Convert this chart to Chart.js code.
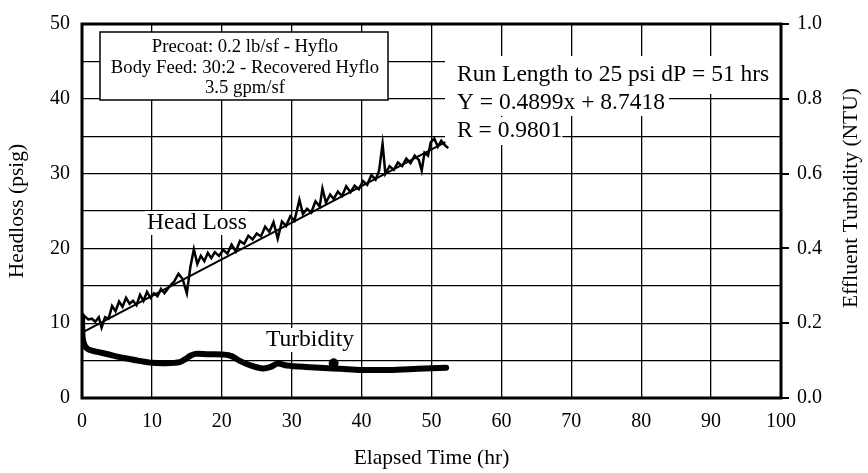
<!DOCTYPE html>
<html>
<head>
<meta charset="utf-8">
<script src="https://cdn.jsdelivr.net/npm/chart.js@4.4.1/dist/chart.umd.min.js"></script>
<style>
html, body { margin: 0; padding: 0; background: #fff; }
#wrap { width: 868px; height: 473px; }
</style>
</head>
<body>
<div id="wrap"><canvas id="runChart" width="868" height="473"></canvas></div>
<script>
// head loss readings (hr, psig)
const headTime = [0, 0.4, 0.9, 1.4, 1.9, 2.4, 2.8, 3.3, 3.8, 4.3, 4.8, 5.3, 5.8, 6.3, 6.8, 7.3, 7.8, 8.3, 8.8, 9.3, 9.8,
  10.3, 10.8, 11.3, 11.8, 12.5, 13.2, 13.8, 14.4, 15.0, 15.5, 16.0, 16.5, 17.0, 17.5, 18.0, 18.5, 19.0, 19.6, 20.2, 20.8,
  21.4, 22.0, 22.6, 23.2, 23.8, 24.4, 25.0, 25.6, 26.2, 26.8, 27.4, 28.0, 28.6, 29.2, 29.8, 30.4, 31.1, 31.6, 32.2, 32.8,
  33.4, 34.0, 34.4, 34.9, 35.5, 36.0, 36.6, 37.2, 37.8, 38.4, 39.0, 39.6, 40.2, 40.8, 41.4, 42.0, 42.5, 43.0, 43.4, 44.0,
  44.6, 45.2, 45.8, 46.4, 47.0, 47.6, 48.2, 48.6, 49.0, 49.5, 49.9, 50.4, 50.9, 51.4, 51.9, 52.4];
const headLoss = [11.0, 10.9, 10.5, 10.6, 10.2, 10.8, 9.4, 10.8, 10.6, 12.3, 11.6, 12.9, 12.2, 13.4, 12.6, 13.0, 12.4, 13.8, 13.0, 14.2, 13.4,
  14.0, 13.6, 14.6, 14.0, 14.9, 15.6, 16.6, 15.9, 14.0, 17.5, 19.9, 17.9, 19.0, 18.3, 19.4, 18.7, 19.5, 19.0, 19.8, 19.3,
  20.5, 19.6, 21.0, 20.6, 21.7, 21.2, 22.0, 21.6, 22.9, 22.2, 23.5, 21.3, 23.6, 23.0, 24.3, 23.7, 26.5, 24.6, 25.3, 24.8,
  26.3, 25.6, 28.0, 26.1, 27.2, 26.6, 27.6, 27.0, 28.3, 27.5, 28.4, 27.9, 29.0, 28.5, 29.8, 29.2, 30.4, 34.0, 30.0, 31.0,
  30.5, 31.5, 31.0, 32.0, 31.4, 32.4, 31.8, 30.4, 32.8, 32.4, 34.2, 34.7, 33.6, 34.4, 33.8, 33.4];

// regression line end points (Y = 0.4899x + 8.7418)
const fitTime = [0, 52];
const fitLoss = [8.74, 34.2];

// effluent turbidity (hr, NTU)
const turbTime = [0, 0.1, 0.4, 0.9, 2, 3.7, 4.7, 6, 8, 10, 12, 14, 14.8, 15.5, 16.2, 18, 20.4, 21.4, 22.5, 24, 25.9, 27, 28, 29.3, 32, 35.9, 38, 40, 44, 48, 52.1];
const turbNtu = [0.22, 0.16, 0.14, 0.13, 0.124, 0.117, 0.112, 0.107, 0.1, 0.094, 0.093, 0.096, 0.104, 0.113, 0.118, 0.117, 0.116, 0.112, 0.1, 0.088, 0.079, 0.083, 0.092, 0.087, 0.083, 0.079, 0.077, 0.075, 0.075, 0.078, 0.081];
const markTime = [36];
const markNtu = [0.093];

const serif = "'Liberation Serif', 'Times New Roman', serif";
Chart.defaults.font.family = serif;
Chart.defaults.color = '#000';

function toPoints(xs, ys) {
  return xs.map((x, i) => ({ x: x, y: ys[i] }));
}

function drawLabel(ctx, text, x, y, padL, padR, h) {
  const w = ctx.measureText(text).width;
  ctx.fillStyle = '#fff';
  ctx.fillRect(x - padL, y - h / 2, w + padL + padR, h);
  ctx.fillStyle = '#000';
  ctx.fillText(text, x, y);
}

const notes = {
  id: 'notes',
  beforeDatasetsDraw(chart) {
    const ctx = chart.ctx;
    const a = chart.chartArea;
    ctx.save();
    ctx.textBaseline = 'middle';

    // condition box
    ctx.fillStyle = '#fff';
    ctx.fillRect(100, 32, 288, 68);
    ctx.strokeStyle = '#000';
    ctx.lineWidth = 1.5;
    ctx.strokeRect(100, 32, 288, 68);
    ctx.fillStyle = '#000';
    ctx.font = '18.7px ' + serif;
    ctx.textAlign = 'center';
    ctx.fillText('Precoat: 0.2 lb/sf - Hyflo', 245, 47);
    ctx.fillText('Body Feed: 30:2 - Recovered Hyflo', 245, 68);
    ctx.fillText('3.5 gpm/sf', 245, 88);

    // run length text
    ctx.textAlign = 'left';
    ctx.font = '23.5px ' + serif;
    drawLabel(ctx, 'Run Length to 25 psi dP = 51 hrs', 457, 75, 12, 12, 38);
    drawLabel(ctx, 'Y = 0.4899x + 8.7418', 457, 103, 12, 4, 26);
    drawLabel(ctx, 'R = 0.9801', 457, 131, 12, 0, 28);

    drawLabel(ctx, 'Head Loss', 147, 223, 2, 2, 24);
    drawLabel(ctx, 'Turbidity', 266, 340, 2, 2, 24);

    // right axis title reads bottom to top
    ctx.font = '21.5px ' + serif;
    ctx.textAlign = 'center';
    ctx.translate(851, 198);
    ctx.rotate(-Math.PI / 2);
    ctx.fillText('Effluent Turbidity (NTU)', 0, 0);
    ctx.restore();

    // heavy frame
    ctx.save();
    ctx.strokeStyle = '#000';
    ctx.lineWidth = 3;
    ctx.strokeRect(a.left, a.top, a.right - a.left, a.bottom - a.top);
    ctx.restore();
  }
};

new Chart(document.getElementById('runChart'), {
  type: 'line',
  data: {
    datasets: [
      {
        label: 'Head Loss',
        data: toPoints(headTime, headLoss),
        yAxisID: 'y',
        borderColor: '#000',
        borderWidth: 2.5,
        pointRadius: 0,
        tension: 0
      },
      {
        label: 'Fit',
        data: toPoints(fitTime, fitLoss),
        yAxisID: 'y',
        borderColor: '#000',
        borderWidth: 2,
        pointRadius: 0
      },
      {
        label: 'Turbidity',
        data: toPoints(turbTime, turbNtu),
        yAxisID: 'y2',
        borderColor: '#000',
        borderWidth: 6,
        pointRadius: 0,
        tension: 0.3,
        borderCapStyle: 'round',
        borderJoinStyle: 'round'
      },
      {
        label: 'Mark',
        data: toPoints(markTime, markNtu),
        yAxisID: 'y2',
        showLine: false,
        pointRadius: 4.5,
        pointBackgroundColor: '#000',
        pointBorderColor: '#000'
      }
    ]
  },
  options: {
    responsive: false,
    animation: false,
    layout: { padding: { top: 15, left: 0, right: 0, bottom: 0 } },
    plugins: {
      legend: { display: false },
      tooltip: { enabled: false }
    },
    scales: {
      x: {
        type: 'linear',
        min: 0,
        max: 100,
        ticks: { stepSize: 10, font: { size: 20 }, padding: 12, color: '#000' },
        grid: { color: '#000', lineWidth: 1.3, drawTicks: false },
        border: { display: false },
        title: { display: true, text: 'Elapsed Time (hr)', font: { size: 21.5 }, padding: { top: 0, bottom: 2 } },
        afterFit: scale => { scale.height = 75; }
      },
      y: {
        position: 'left',
        min: 0,
        max: 50,
        ticks: {
          stepSize: 5,
          font: { size: 20 },
          padding: 12,
          color: '#000',
          callback: v => (v % 10 === 0 ? v : '')
        },
        grid: { color: '#000', lineWidth: 1.3, drawTicks: false },
        border: { display: false },
        title: { display: true, text: 'Headloss (psig)', font: { size: 21.5 }, padding: { top: 4, bottom: 0 } },
        afterFit: scale => { scale.width = 82; }
      },
      y2: {
        position: 'right',
        min: 0,
        max: 1,
        ticks: {
          stepSize: 0.2,
          font: { size: 20 },
          padding: 8,
          color: '#000',
          callback: v => v.toFixed(1)
        },
        grid: { drawOnChartArea: false, color: '#000', lineWidth: 2, tickLength: 8 },
        border: { display: false },
        afterFit: scale => { scale.width = 87; }
      }
    }
  },
  plugins: [notes]
});
</script>
</body>
</html>
